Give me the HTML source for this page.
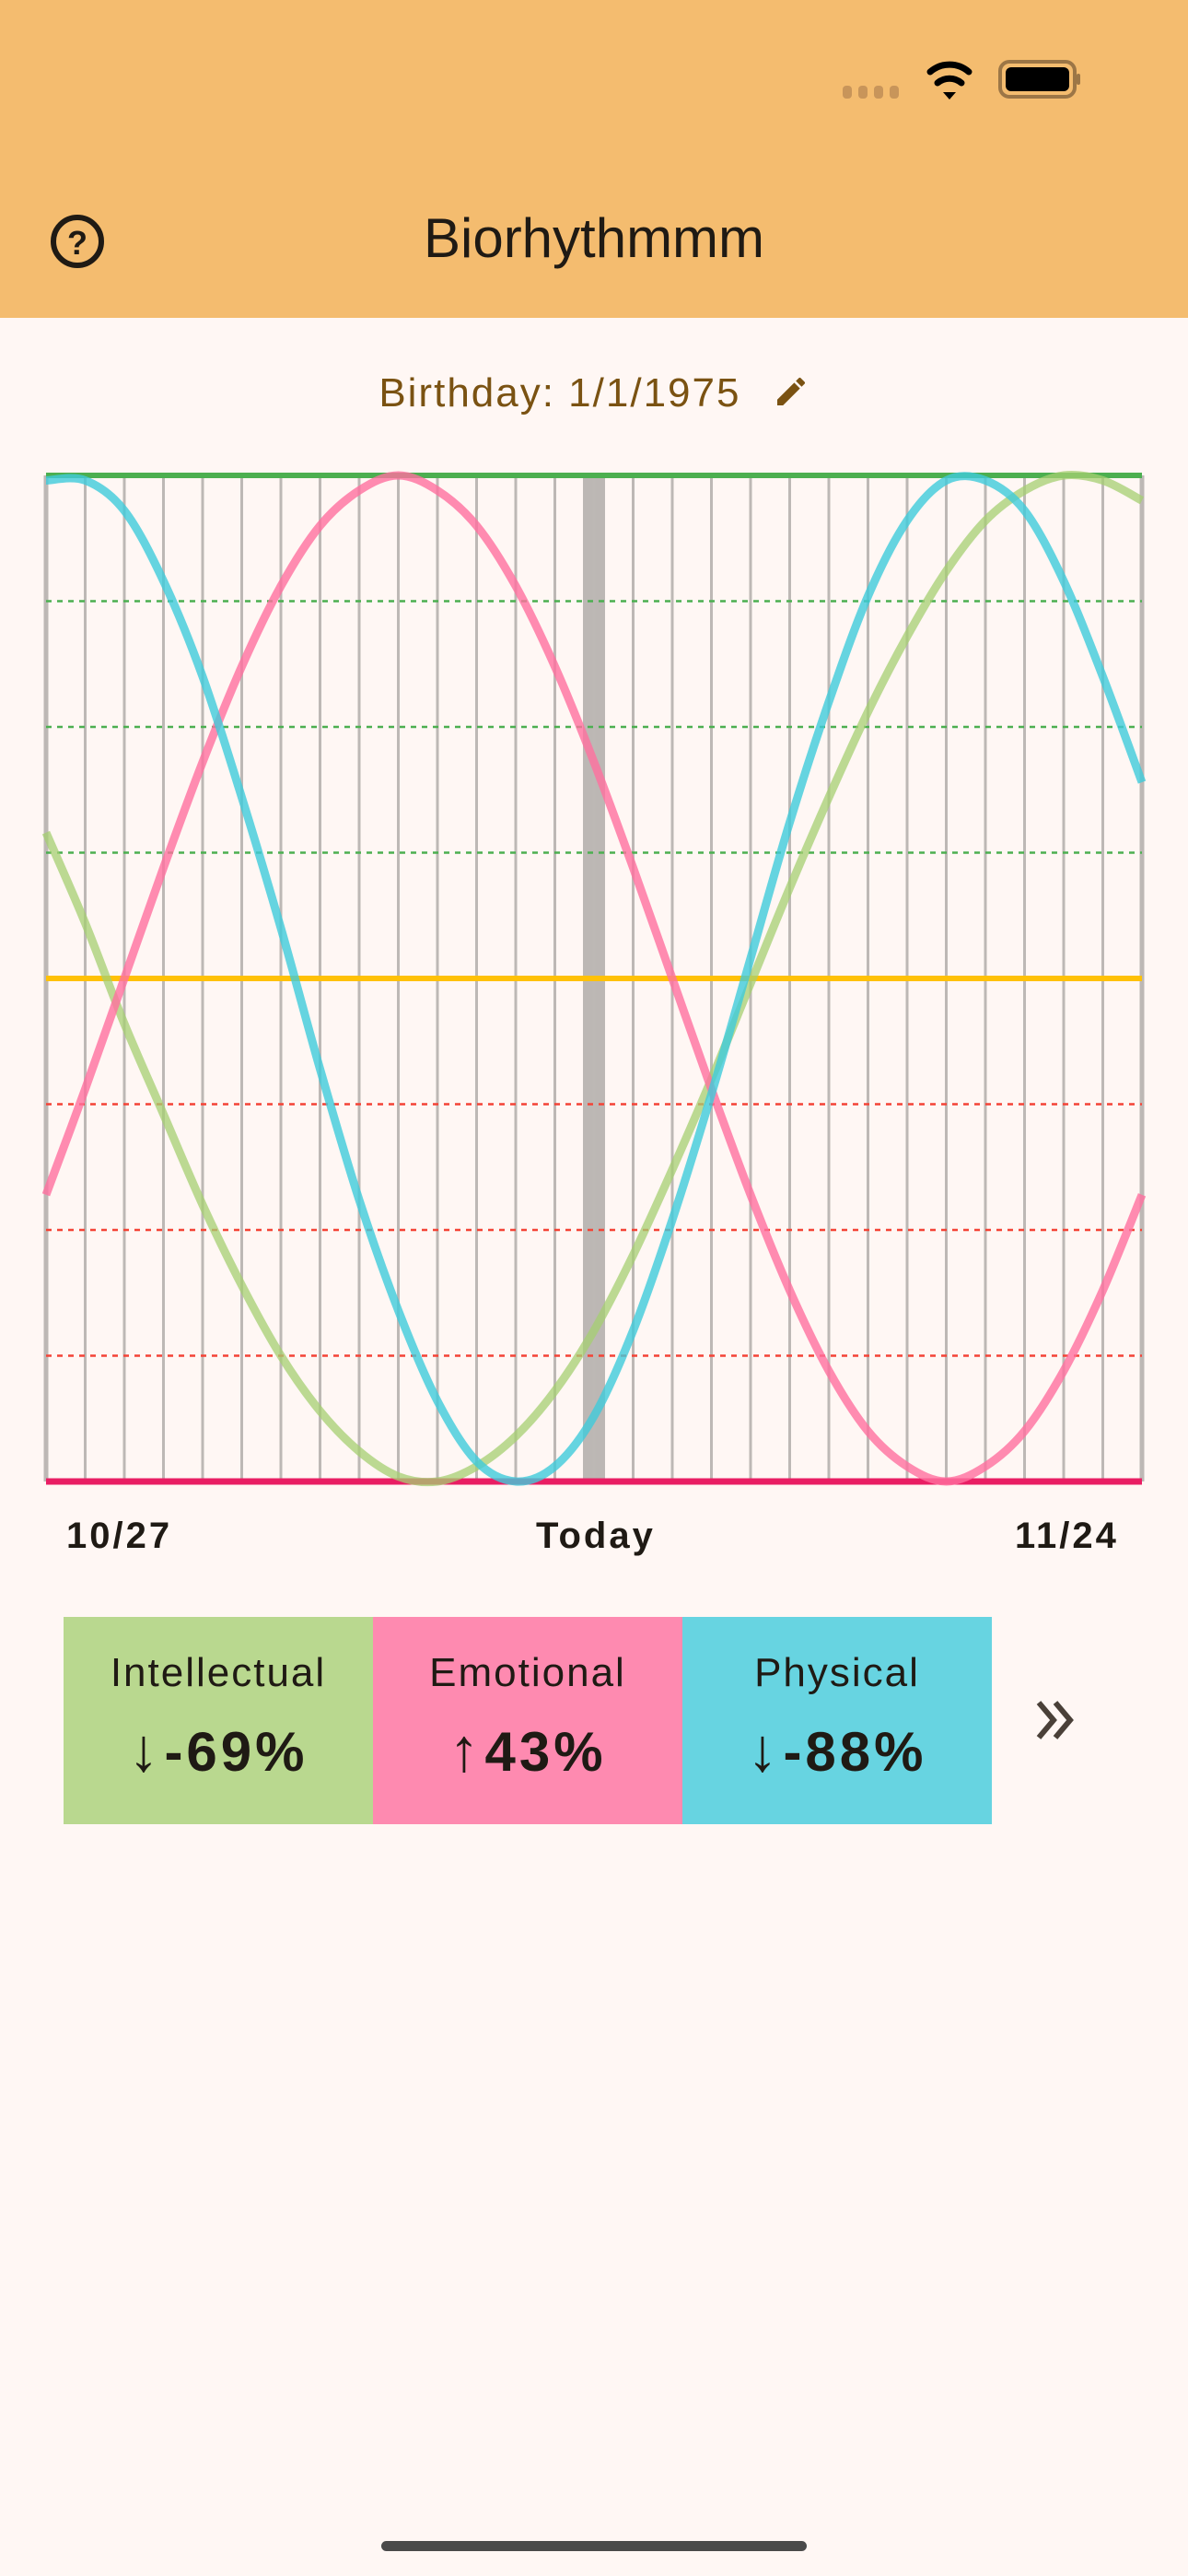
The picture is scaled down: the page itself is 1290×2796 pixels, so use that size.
<!DOCTYPE html>
<html><head><meta charset="utf-8">
<style>
html,body{margin:0;padding:0;}
body{width:1290px;height:2796px;background:#fff7f4;position:relative;overflow:hidden;font-family:"Liberation Sans",sans-serif;}
.abs{position:absolute;}
#header{left:0;top:0;width:1290px;height:345px;background:#f4bc6f;}
#title{left:0;width:1290px;top:224px;text-align:center;font-size:60px;color:#1f1a14;}
#bday{left:0;width:1290px;top:402px;text-align:center;font-size:44px;letter-spacing:2px;color:#7a5212;}
.lbl{top:1645px;font-size:40px;font-weight:bold;letter-spacing:3px;color:#1f1a14;}
.card{top:1755px;height:225px;width:336px;text-align:center;color:#1f1a14;}
.card .n{margin-top:36px;font-size:44px;letter-spacing:2px;}
.card .v{margin-top:20px;font-size:60px;font-weight:bold;letter-spacing:4px;}
.card .v .a{font-size:66px;font-weight:normal;letter-spacing:6px;}
</style></head><body>
<div id="header" class="abs"></div>
<svg class="abs" style="left:0;top:0" width="1290" height="345">
  <g fill="#c8955a">
    <rect x="915" y="93" width="10" height="14" rx="4"/><rect x="932" y="93" width="10" height="14" rx="4"/>
    <rect x="949" y="93" width="10" height="14" rx="4"/><rect x="966" y="93" width="10" height="14" rx="4"/>
  </g>
  <g fill="none" stroke="#000" stroke-width="7" stroke-linecap="round">
    <path d="M1010 78 A32 32 0 0 1 1052 78"/><path d="M1018 90 A20 20 0 0 1 1044 90"/>
  </g>
  <path d="M1024 100 L1038 100 L1031 108 Z" fill="#000"/>
  <rect x="1086" y="67" width="81" height="38" rx="10" fill="none" stroke="#9c7646" stroke-width="4"/>
  <rect x="1092" y="73" width="69" height="26" rx="6" fill="#000"/>
  <rect x="1169" y="80" width="4" height="12" rx="2" fill="#9c7646"/>
  <g>
    <circle cx="84" cy="262" r="26" fill="none" stroke="#1f1a14" stroke-width="6"/>
    <text x="84" y="276" text-anchor="middle" font-size="36" font-weight="bold" font-family="Liberation Sans" fill="#1f1a14">?</text>
  </g>
</svg>
<div id="title" class="abs">Biorhythmmm</div>
<div id="bday" class="abs">Birthday: 1/1/1975 <svg width="40" height="40" viewBox="0 0 24 24" style="vertical-align:-4px;margin-left:20px"><path fill="#7a5212" d="M3 17.25V21h3.75L17.81 9.94l-3.75-3.75L3 17.25zM20.71 7.04a1 1 0 0 0 0-1.41l-2.34-2.34a1 1 0 0 0-1.41 0l-1.83 1.83 3.75 3.75 1.83-1.83z"/></svg></div>

<svg id="chart" class="abs" style="left:0;top:480px" width="1290" height="1160"></svg>

<div class="abs lbl" style="left:72px">10/27</div>
<div class="abs lbl" style="left:582px">Today</div>
<div class="abs lbl" style="left:1102px">11/24</div>

<div class="abs card" style="left:69px;background:#b9d88f"><div class="n">Intellectual</div><div class="v"><span class="a">↓</span>-69%</div></div>
<div class="abs card" style="left:405px;background:#fe8ab0"><div class="n">Emotional</div><div class="v"><span class="a">↑</span>43%</div></div>
<div class="abs card" style="left:741px;background:#67d4e1"><div class="n">Physical</div><div class="v"><span class="a">↓</span>-88%</div></div>
<svg class="abs" style="left:1120px;top:1842px" width="56" height="50">
  <path d="M8 6 L24 25 L8 44 M26 6 L42 25 L26 44" fill="none" stroke="#4a4038" stroke-width="6"/>
</svg>
<div class="abs" style="left:414px;top:2758px;width:462px;height:11px;border-radius:6px;background:#4a4a4a"></div>

<script>
const days = ["10/27","10/28","10/29","10/30","10/31","11/1","11/2","11/3","11/4","11/5","11/6","11/7","11/8","11/9","11/10","11/11","11/12","11/13","11/14","11/15","11/16","11/17","11/18","11/19","11/20","11/21","11/22","11/23","11/24"];
const todayIndex = 14;
const intellectual = [0.29,0.11,-0.09,-0.27,-0.45,-0.61,-0.75,-0.86,-0.94,-0.99,-1.0,-0.97,-0.91,-0.82,-0.70,-0.55,-0.38,-0.20,-0.01,0.18,0.36,0.53,0.68,0.81,0.91,0.97,1.0,0.99,0.95];
const emotional = [-0.43,-0.22,0.0,0.22,0.43,0.62,0.78,0.90,0.97,1.0,0.97,0.90,0.78,0.62,0.43,0.22,0.0,-0.22,-0.43,-0.62,-0.78,-0.90,-0.97,-1.0,-0.97,-0.90,-0.78,-0.62,-0.43];
const physical = [0.99,0.99,0.93,0.79,0.60,0.36,0.10,-0.18,-0.44,-0.66,-0.84,-0.96,-1.0,-0.97,-0.87,-0.70,-0.48,-0.23,0.04,0.31,0.55,0.76,0.91,0.99,0.99,0.93,0.79,0.60,0.39];
const gridLevels = [0.75,0.5,0.25,-0.25,-0.5,-0.75];

const svg = document.getElementById('chart');
const NS = 'http://www.w3.org/2000/svg';
const X0 = 50, X1 = 1240, OY = 480, TOP = 516 - OY, BOT = 1608 - OY;
const xs = i => X0 + (X1 - X0) * i / (days.length - 1);
const ys = v => (TOP + BOT) / 2 - v * (BOT - TOP) / 2;
function mk(tag, attrs){const e=document.createElementNS(NS,tag);for(const k in attrs)e.setAttribute(k,attrs[k]);svg.appendChild(e);return e;}

let tb = mk('rect',{x:xs(todayIndex)-12,y:TOP,width:24,height:BOT-TOP,fill:'#bcb7b4'});


days.forEach((d,i)=>{
  const edge = i===0||i===days.length-1;
  const l = mk('line',{x1:xs(i),x2:xs(i),y1:TOP,y2:BOT,stroke:'#bdb8b5','stroke-width':edge?5:3});
  
  
});
gridLevels.forEach(v=>{
  const l = mk('line',{x1:X0,x2:X1,y1:ys(v),y2:ys(v),stroke:v>0?'#4caf50':'#f44336','stroke-width':2.5,'stroke-dasharray':'6 6'});
  
  
});
let mid = mk('line',{x1:X0,x2:X1,y1:ys(0),y2:ys(0),stroke:'#ffc107','stroke-width':6});


let topL = mk('line',{x1:X0,x2:X1,y1:ys(1),y2:ys(1),stroke:'#4caf50','stroke-width':6});


let botL = mk('line',{x1:X0,x2:X1,y1:ys(-1),y2:ys(-1),stroke:'#e91e63','stroke-width':7});



function curve(vals){
  const p = vals.map((v,i)=>[xs(i),ys(v)]);
  let d = 'M'+p[0][0]+' '+p[0][1];
  for(let i=0;i<p.length-1;i++){
    const p0=p[Math.max(i-1,0)],p1=p[i],p2=p[i+1],p3=p[Math.min(i+2,p.length-1)];
    const c1=[p1[0]+(p2[0]-p0[0])/6,p1[1]+(p2[1]-p0[1])/6];
    const c2=[p2[0]-(p3[0]-p1[0])/6,p2[1]-(p3[1]-p1[1])/6];
    d+=` C${c1[0]} ${c1[1]} ${c2[0]} ${c2[1]} ${p2[0]} ${p2[1]}`;
  }
  return d;
}
let pi = mk('path',{d:curve(intellectual),fill:'none',stroke:'#a5cf72','stroke-opacity':0.75,'stroke-width':9});


let pe = mk('path',{d:curve(emotional),fill:'none',stroke:'#ff6f9f','stroke-opacity':0.8,'stroke-width':9});


let pp = mk('path',{d:curve(physical),fill:'none',stroke:'#3fcadb','stroke-opacity':0.8,'stroke-width':9});


</script>
</body></html>
